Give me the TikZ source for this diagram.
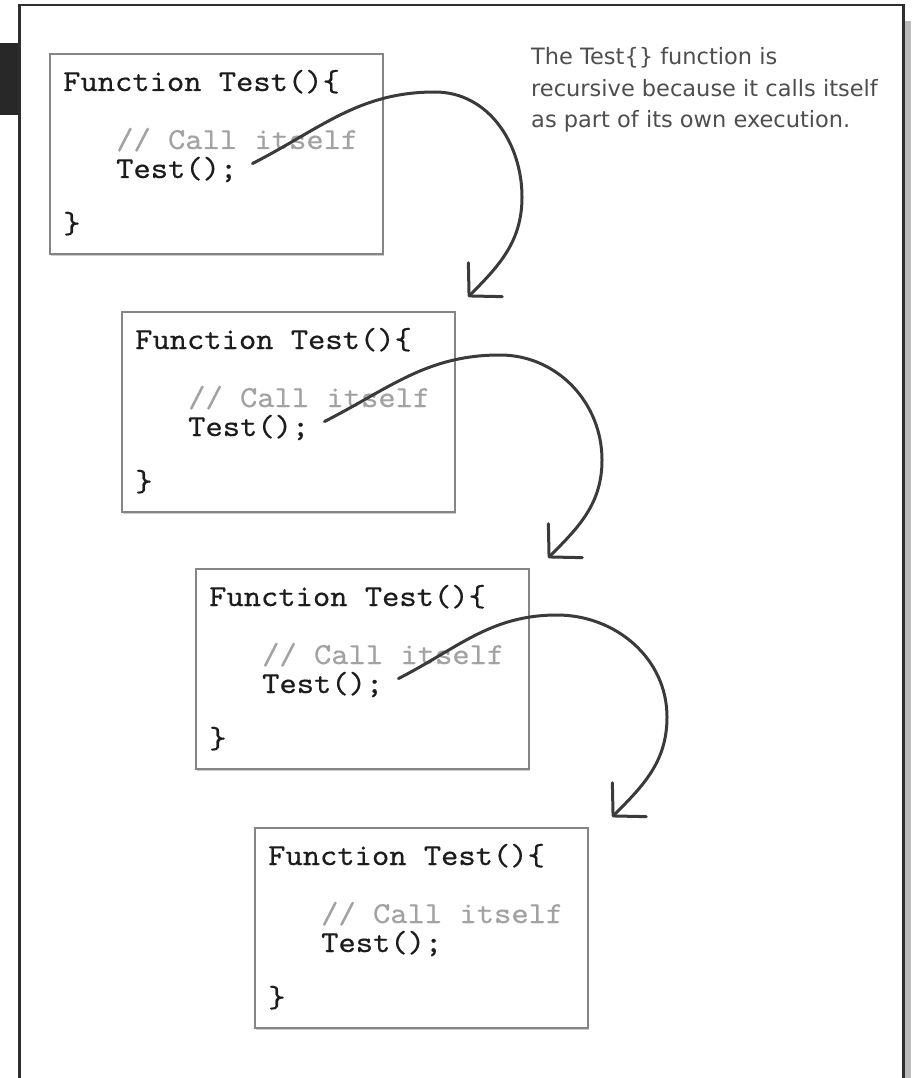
\documentclass[tikz,border=0pt]{standalone}
\usepackage{fontspec}
\newfontfamily\notefont{DejaVu Sans}
\newfontfamily\codefont{lmmono10-regular}[Extension=.otf, FakeStretch=1.08, FakeBold=0.45]
\usetikzlibrary{arrows.meta,shadows}

\definecolor{framecol}{HTML}{2E2E2E}
\definecolor{tabcol}{HTML}{282828}
\definecolor{boxcol}{HTML}{858585}
\definecolor{codecol}{HTML}{1C1C1C}
\definecolor{commentcol}{HTML}{A2A2A2}
\definecolor{arrowcol}{HTML}{3A3A3A}
\definecolor{notecol}{HTML}{4E4E4E}

\tikzset{
  codebox/.style={draw=boxcol, line width=1.8pt, fill=white, rectangle,
    minimum width=333pt, minimum height=200pt, anchor=north west, inner sep=0pt,
    drop shadow={shadow xshift=1.5pt, shadow yshift=-2pt, fill=black!40, opacity=0.5}},
  codeline/.style={anchor=base west, inner sep=0pt, text=codecol,
    font=\codefont\fontsize{30.5}{30.5}\selectfont},
  commentline/.style={codeline, text=commentcol},
  callarrow/.style={draw=arrowcol, line width=3pt, line cap=round,
    -{Straight Barb[length=23pt, width=48pt, round]}},
}

% one function body: frame plus its four lines of code
\newcommand{\funcbox}[3]{%
  \node[codebox] (box#1) at (#2,-#3) {};
  \node[codeline] (head#1) at (#2+14,-#3-38) {Function Test()\{};
  \node[commentline] (note#1) at (#2+67,-#3-96) {// Call itself};
  \node[codeline] (call#1) at (#2+67,-#3-125) {Test();};
  \node[codeline] (close#1) at (#2+14,-#3-180) {\}};
}

\begin{document}
\begin{tikzpicture}[x=1pt, y=1pt]
  \useasboundingbox (0,0) rectangle (911,-1078);

  % page frame, its shadow and the tab on the left
  \fill[black!27] (905,-21) rectangle (911,-1078);
  \fill[tabcol] (0,-43) rectangle (18.5,-115);
  \draw[framecol, line width=2.5pt] (19.5,-1090) -- (19.5,-5) -- (903.5,-5) -- (903.5,-1090);

  % the four nested calls
  \funcbox{1}{49}{53}
  \funcbox{2}{121}{311}
  \funcbox{3}{195}{568}
  \funcbox{4}{254}{827}

  % explanatory note (base anchor sits on its last line)
  \node[anchor=base west, inner sep=0pt, align=left, text=notecol,
        font=\notefont\fontsize{22.5}{31.5}\selectfont] (explain) at (531,-128)
    {The Test\{\} function is\\recursive because it calls itself\\as part of its own execution.};

  % entry points of each recursive call
  \coordinate (in2) at (468,-297);
  \coordinate (in3) at (548,-558);
  \coordinate (in4) at (612,-817);

  \draw[callarrow] ([xshift=15pt,yshift=6pt]call1.east) to[out=27,in=180] (435,-92)
    to[out=0,in=90] (522,-197) to[out=-90,in=45] (in2);
  \draw[callarrow] ([xshift=15pt,yshift=6pt]call2.east) to[out=27,in=180] (500,-355)
    to[out=0,in=90] (602,-460) to[out=-90,in=45] (in3);
  \draw[callarrow] ([xshift=15pt,yshift=6pt]call3.east) to[out=27,in=180] (557,-615)
    to[out=0,in=90] (667,-717) to[out=-90,in=45] (in4);
\end{tikzpicture}
\end{document}
